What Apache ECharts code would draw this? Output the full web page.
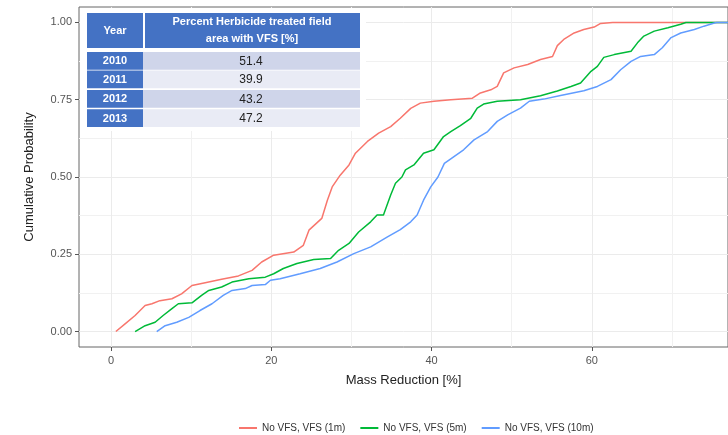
<!DOCTYPE html>
<html>
<head>
<meta charset="utf-8">
<script src="https://cdn.jsdelivr.net/npm/echarts@6/dist/echarts.min.js"></script>
<style>
  html, body { margin: 0; padding: 0; background: #fff; }
  #chart { width: 728px; height: 435px; }
</style>
</head>
<body>
<div id="chart"></div>
<script>
// ECDF curves: mass reduction [%] vs cumulative probability
const seriesNames = ['No VFS, VFS (1m)', 'No VFS, VFS (5m)', 'No VFS, VFS (10m)'];
const seriesColors = ['#F8766D', '#00BA38', '#619CFF'];

const mass1m = [0.6, 1.75, 3, 4.25, 5.1, 6.1, 7.6, 8.8, 10.1, 11.75, 13.8, 15.9, 17.6, 18.8, 20.3, 22.8, 24, 24.7, 26.3, 27, 27.6, 28.6, 29.7, 30.5, 32, 33.4, 34.9, 36.1, 37.4, 38.6, 40.3, 42.4, 45.1, 46.1, 47.4, 48.2, 49, 50.3, 52, 53.6, 55.1, 55.7, 56.5, 57.8, 59, 60.3, 61.1, 62.6, 80];
const prob1m = [0, 0.025, 0.052, 0.084, 0.09, 0.10, 0.106, 0.122, 0.149, 0.158, 0.169, 0.18, 0.198, 0.225, 0.247, 0.257, 0.279, 0.328, 0.366, 0.425, 0.468, 0.506, 0.539, 0.577, 0.615, 0.642, 0.663, 0.69, 0.722, 0.739, 0.745, 0.75, 0.755, 0.772, 0.782, 0.793, 0.837, 0.853, 0.864, 0.88, 0.89, 0.925, 0.945, 0.966, 0.977, 0.985, 0.997, 1, 1];

const mass5m = [3, 4.25, 5.5, 6.5, 7.6, 8.4, 10.1, 11.3, 12.2, 13.8, 15.1, 17.2, 19.25, 20.3, 21.5, 23.2, 25.3, 27.4, 28.4, 29.7, 30.9, 32.4, 33.2, 34, 34.9, 35.5, 36.3, 36.75, 37.8, 39, 40.3, 41.5, 42.4, 43.6, 44.9, 45.7, 46.5, 48.2, 51.1, 53.6, 55.7, 57.4, 58.6, 59.9, 60.7, 61.5, 62.8, 64.9, 65.7, 66.5, 67.8, 69.5, 71.1, 71.75, 80];
const prob5m = [0, 0.019, 0.03, 0.052, 0.074, 0.09, 0.093, 0.117, 0.133, 0.144, 0.16, 0.171, 0.176, 0.187, 0.204, 0.22, 0.233, 0.236, 0.263, 0.285, 0.322, 0.355, 0.377, 0.377, 0.442, 0.48, 0.5, 0.523, 0.539, 0.577, 0.588, 0.631, 0.647, 0.666, 0.69, 0.723, 0.736, 0.745, 0.75, 0.763, 0.778, 0.793, 0.804, 0.842, 0.858, 0.887, 0.896, 0.907, 0.934, 0.956, 0.972, 0.983, 0.994, 1, 1];

const mass10m = [5.7, 6.75, 8.2, 9.7, 11.1, 12.6, 14, 15.1, 16.75, 17.6, 19.25, 19.9, 21.1, 23.6, 26.1, 28.2, 30.3, 32.4, 34.5, 36.1, 37.4, 38.2, 39, 39.9, 40.8, 41.6, 42.8, 44, 45.3, 47, 48.2, 49.5, 51.1, 52.2, 54, 56.1, 59, 60.7, 62.4, 63.6, 64.9, 66.1, 67.8, 68.8, 69.9, 71.1, 72.8, 74, 75.3, 75.6, 80];
const prob10m = [0, 0.019, 0.03, 0.046, 0.068, 0.09, 0.117, 0.133, 0.139, 0.149, 0.152, 0.166, 0.171, 0.187, 0.204, 0.225, 0.252, 0.274, 0.306, 0.33, 0.355, 0.377, 0.425, 0.468, 0.5, 0.544, 0.566, 0.588, 0.62, 0.647, 0.68, 0.701, 0.723, 0.745, 0.752, 0.764, 0.779, 0.793, 0.815, 0.847, 0.874, 0.89, 0.896, 0.918, 0.951, 0.966, 0.977, 0.988, 0.998, 1, 1];

// axis ticks
const xMajorTicks = [0, 20, 40, 60];
const xMinorTicks = [10, 30, 50, 70];
const yMajorTicks = [0, 0.25, 0.5, 0.75, 1];
const yMinorTicks = [0.125, 0.375, 0.625, 0.875];

// inset table
const tableYears = ['2010', '2011', '2012', '2013'];
const tablePercent = ['51.4', '39.9', '43.2', '47.2'];
const tableHeader = ['Year', 'Percent Herbicide treated field\narea with VFS [%]'];

const FONT = "'Liberation Sans', Arial, sans-serif";

function pairs(xs, ys) {
  return xs.map((x, i) => [x, ys[i]]);
}

function buildTable() {
  const els = [];
  els.push({ type: 'rect', shape: { x: 80, y: 8, width: 286, height: 123 }, style: { fill: '#fff' } });
  // header
  els.push({ type: 'rect', shape: { x: 87, y: 13, width: 56, height: 35 }, style: { fill: '#4472C4' } });
  els.push({ type: 'rect', shape: { x: 145, y: 13, width: 215, height: 35 }, style: { fill: '#4472C4' } });
  els.push({
    type: 'text', x: 115, y: 30.5,
    style: { text: tableHeader[0], fill: '#fff', font: 'bold 11px ' + FONT, align: 'center', verticalAlign: 'middle' }
  });
  els.push({
    type: 'text', x: 252, y: 30.5,
    style: { text: tableHeader[1], fill: '#fff', font: 'bold 11px ' + FONT, align: 'center', verticalAlign: 'middle', lineHeight: 17 }
  });
  const rowTop = [52, 70.5, 90, 109.3];
  const rowFill = ['#CFD5EA', '#E9EBF5', '#CFD5EA', '#E9EBF5'];
  tableYears.forEach((yr, i) => {
    const h = 17.7;
    els.push({ type: 'rect', shape: { x: 87, y: rowTop[i], width: 56, height: h }, style: { fill: '#4472C4' } });
    els.push({ type: 'rect', shape: { x: 143, y: rowTop[i], width: 217, height: h }, style: { fill: rowFill[i] } });
    els.push({
      type: 'text', x: 115, y: rowTop[i] + h / 2 + 0.5,
      style: { text: yr, fill: '#fff', font: 'bold 11px ' + FONT, align: 'center', verticalAlign: 'middle' }
    });
    els.push({
      type: 'text', x: 251, y: rowTop[i] + h / 2 + 0.5,
      style: { text: tablePercent[i], fill: '#222', font: '12px ' + FONT, align: 'center', verticalAlign: 'middle' }
    });
  });
  // keep the table above gridlines
  els.forEach(e => { e.z = 100; });
  return els;
}

const chart = echarts.init(document.getElementById('chart'), null, { renderer: 'canvas' });

const massData = [mass1m, mass5m, mass10m];
const probData = [prob1m, prob5m, prob10m];

chart.setOption({
  backgroundColor: '#fff',
  animation: false,
  grid: {
    left: 79, right: -1, top: 7, bottom: 88,
    show: true, borderColor: '#666', borderWidth: 1, backgroundColor: 'transparent'
  },
  legend: {
    data: seriesNames,
    left: 233, top: 418,
    itemWidth: 18, itemHeight: 2, itemGap: 14,
    textStyle: { fontFamily: FONT, fontSize: 10, color: '#333' }
  },
  xAxis: [
    {
      type: 'value', min: -4, max: 77,
      name: 'Mass Reduction [%]', nameLocation: 'middle', nameGap: 27,
      nameTextStyle: { fontFamily: FONT, fontSize: 13, color: '#222' },
      axisLine: { show: false, onZero: false },
      axisTick: { show: true, length: 4, lineStyle: { color: '#555' }, customValues: xMajorTicks },
      axisLabel: { customValues: xMajorTicks, fontFamily: FONT, fontSize: 11, color: '#555', margin: 8 },
      splitLine: { show: true, lineStyle: { color: '#ebebeb', width: 1 } }
    },
    {
      type: 'value', min: -4, max: 77,
      axisLine: { show: false, onZero: false },
      axisTick: { show: false, customValues: xMinorTicks },
      axisLabel: { show: false, customValues: xMinorTicks },
      splitLine: { show: true, lineStyle: { color: '#f1f1f1', width: 1 } }
    }
  ],
  yAxis: [
    {
      type: 'value', min: -0.05, max: 1.05,
      name: 'Cumulative Probability', nameLocation: 'middle', nameGap: 43,
      nameTextStyle: { fontFamily: FONT, fontSize: 13, color: '#222' },
      axisLine: { show: false, onZero: false },
      axisTick: { show: true, length: 4, lineStyle: { color: '#555' }, customValues: yMajorTicks },
      axisLabel: {
        customValues: yMajorTicks, fontFamily: FONT, fontSize: 11, color: '#555', margin: 7,
        formatter: v => v.toFixed(2)
      },
      splitLine: { show: true, lineStyle: { color: '#ebebeb', width: 1 } }
    },
    {
      type: 'value', min: -0.05, max: 1.05,
      axisLine: { show: false, onZero: false },
      axisTick: { show: false, customValues: yMinorTicks },
      axisLabel: { show: false, customValues: yMinorTicks },
      splitLine: { show: true, lineStyle: { color: '#f1f1f1', width: 1 } }
    }
  ],
  series: seriesNames.map((name, i) => ({
    name: name,
    type: 'line',
    xAxisIndex: 0,
    yAxisIndex: 0,
    data: pairs(massData[i], probData[i]),
    symbol: 'none',
    clip: true,
    lineStyle: { width: 1.5, color: seriesColors[i] },
    itemStyle: { color: seriesColors[i] }
  })),
  graphic: buildTable()
});
</script>
</body>
</html>
